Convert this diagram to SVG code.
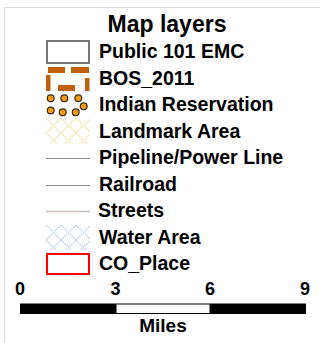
<svg xmlns="http://www.w3.org/2000/svg" width="320" height="343" viewBox="0 0 320 343">
<style>
text{font-family:"Liberation Sans",Arial,sans-serif;font-weight:bold;fill:#000}
.lbl{font-size:19.5px}
.num{font-size:18px;text-anchor:middle}
.dot{fill:#f39c12;stroke:#3a2a10;stroke-width:1.2}
</style>
<defs>
<pattern id="pl" width="15" height="15" patternUnits="userSpaceOnUse" x="46" y="118">
<path d="M0,0 L15,15 M15,0 L0,15" stroke="#f5e09a" stroke-width="1.4" stroke-dasharray="1.5,1" fill="none"/>
</pattern>
<pattern id="pw" width="15" height="15" patternUnits="userSpaceOnUse" x="46" y="225">
<path d="M0,0 L15,15 M15,0 L0,15" stroke="#b4cfee" stroke-width="1.4" stroke-dasharray="1.5,1" fill="none"/>
</pattern>
</defs>
<g id="frame">
<path d="M4.5,343 V7.5 H320" fill="none" stroke="#dcdcdc" stroke-width="1"/>
</g>
<text id="title" x="167" y="31.5" font-size="23" text-anchor="middle">Map layers</text>
<g id="public101">
<rect x="47" y="41" width="42" height="22" fill="#fff" stroke="#777" stroke-width="2"/>
<text class="lbl" x="99" y="57.5">Public 101 EMC</text>
</g>
<g id="bos2011">
<g fill="#c0600c">
<rect x="48" y="67" width="17" height="6"/>
<rect x="71" y="67" width="18" height="6"/>
<rect x="46" y="75" width="4.5" height="16"/>
<rect x="58" y="85" width="17" height="6"/>
<rect x="85" y="78" width="4.5" height="13"/>
</g>
<text class="lbl" x="99" y="84.5">BOS_2011</text>
</g>
<g id="indian">
<circle class="dot" cx="50.7" cy="98.3" r="3.4"/>
<circle class="dot" cx="64.3" cy="98.3" r="3.4"/>
<circle class="dot" cx="78.3" cy="98.3" r="3.4"/>
<circle class="dot" cx="50.7" cy="110.5" r="3.4"/>
<circle class="dot" cx="62.7" cy="112.3" r="3.4"/>
<circle class="dot" cx="75.7" cy="112.3" r="3.4"/>
<circle class="dot" cx="83.7" cy="106.3" r="3.4"/>
<text class="lbl" x="99" y="111">Indian Reservation</text>
</g>
<g id="landmark">
<rect x="46" y="118" width="44" height="26" fill="url(#pl)"/>
<text class="lbl" x="99" y="137.5">Landmark Area</text>
</g>
<g id="pipeline">
<line x1="46" y1="158.5" x2="90" y2="158.5" stroke="#888" stroke-width="1"/>
<text class="lbl" x="99" y="164">Pipeline/Power Line</text>
</g>
<g id="railroad">
<line x1="46" y1="185.5" x2="90" y2="185.5" stroke="#888" stroke-width="1"/>
<text class="lbl" x="99" y="190.5">Railroad</text>
</g>
<g id="streets">
<line x1="46" y1="211.5" x2="90" y2="211.5" stroke="#cbc3be" stroke-width="1.6"/>
<text class="lbl" x="98" y="217">Streets</text>
</g>
<g id="water">
<rect x="46" y="225" width="44" height="25" fill="url(#pw)"/>
<text class="lbl" x="99" y="243.5">Water Area</text>
</g>
<g id="coplace">
<rect x="47" y="254" width="42" height="20" fill="#fff" stroke="#f00" stroke-width="2"/>
<text class="lbl" x="99" y="270">CO_Place</text>
</g>
<g id="scale">
<text class="num" x="20" y="295">0</text>
<text class="num" x="115.5" y="295">3</text>
<text class="num" x="210" y="295">6</text>
<text class="num" x="305" y="295">9</text>
<rect x="20" y="303.5" width="286" height="10.5" fill="#000"/>
<rect x="116.5" y="304.5" width="93" height="8.5" fill="#fff"/>
<text x="163" y="332" font-size="19" text-anchor="middle">Miles</text>
</g>
</svg>
